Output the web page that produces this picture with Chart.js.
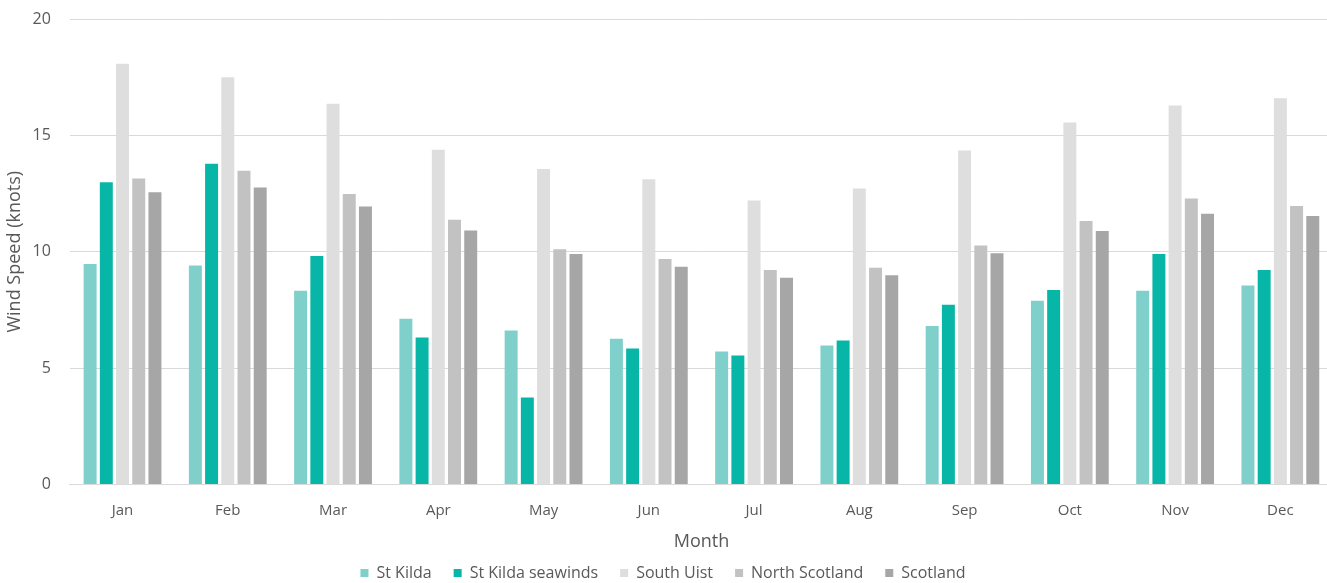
<!DOCTYPE html>
<html>
<head>
<meta charset="utf-8">
<script src="https://cdn.jsdelivr.net/npm/chart.js@4.4.1/dist/chart.umd.min.js"></script>
<style>
  html, body { margin: 0; padding: 0; background: #ffffff; overflow: hidden; }
  #wrap { width: 1333px; height: 583px; position: relative; }
</style>
</head>
<body>
<div id="wrap"><canvas id="chart"></canvas></div>
<script>
// Monthly mean wind speeds (knots)
const months = ['Jan', 'Feb', 'Mar', 'Apr', 'May', 'Jun', 'Jul', 'Aug', 'Sep', 'Oct', 'Nov', 'Dec'];
const stKilda          = [9.47, 9.41, 8.32, 7.12, 6.61, 6.26, 5.71, 5.97, 6.81, 7.89, 8.32, 8.55];
const stKildaSeawinds  = [12.99, 13.78, 9.82, 6.31, 3.73, 5.84, 5.54, 6.18, 7.72, 8.36, 9.90, 9.22];
const southUist        = [18.08, 17.50, 16.36, 14.38, 13.56, 13.12, 12.20, 12.72, 14.35, 15.56, 16.29, 16.60];
const northScotland    = [13.15, 13.48, 12.48, 11.37, 10.11, 9.69, 9.22, 9.31, 10.27, 11.32, 12.29, 11.97];
const scotland         = [12.56, 12.76, 11.94, 10.91, 9.90, 9.36, 8.88, 8.99, 9.94, 10.89, 11.63, 11.54];
const yTicks = [0, 5, 10, 15, 20];

const series = [
  { label: 'St Kilda',          data: stKilda,         color: '#7fcfcb' },
  { label: 'St Kilda seawinds', data: stKildaSeawinds, color: '#08b6a8' },
  { label: 'South Uist',        data: southUist,       color: '#dededf' },
  { label: 'North Scotland',    data: northScotland,   color: '#c2c2c3' },
  { label: 'Scotland',          data: scotland,        color: '#a6a6a7' }
];

const FONT = '"Open Sans", "Liberation Sans", sans-serif';

new Chart(document.getElementById('chart'), {
  type: 'bar',
  data: {
    labels: months,
    datasets: series.map(s => ({
      label: s.label,
      data: s.data,
      backgroundColor: s.color,
      borderWidth: 0,
      categoryPercentage: 0.77,
      barPercentage: 0.8
    }))
  },
  options: {
    responsive: true,
    maintainAspectRatio: false,
    animation: false,
    layout: { padding: { top: 0, right: 0, left: -7, bottom: -8 } },
    plugins: {
      tooltip: { enabled: false },
      legend: {
        position: 'bottom',
        labels: {
          boxWidth: 8,
          boxHeight: 8,
          padding: 22,
          color: '#595959',
          font: { family: FONT, size: 16 }
        }
      }
    },
    scales: {
      x: {
        grid: { display: false, drawTicks: false },
        border: { display: true, color: '#d9d9d9', width: 1 },
        ticks: { color: '#595959', padding: 17, font: { family: FONT, size: 15 } },
        title: {
          display: true,
          text: 'Month',
          color: '#595959',
          padding: { top: -5, bottom: -10 },
          font: { family: FONT, size: 18 }
        }
      },
      y: {
        min: 0,
        max: 20,
        afterBuildTicks: axis => { axis.ticks = yTicks.map(v => ({ value: v })); },
        grid: { color: '#d9d9d9', lineWidth: 1, drawTicks: false },
        border: { display: false },
        ticks: { color: '#595959', padding: 19, font: { family: FONT, size: 16, lineHeight: 0.01 } },
        title: {
          display: true,
          text: 'Wind Speed (knots)',
          color: '#595959',
          padding: { top: 11, bottom: -12 },
          font: { family: FONT, size: 18 }
        }
      }
    }
  }
});
</script>
</body>
</html>
